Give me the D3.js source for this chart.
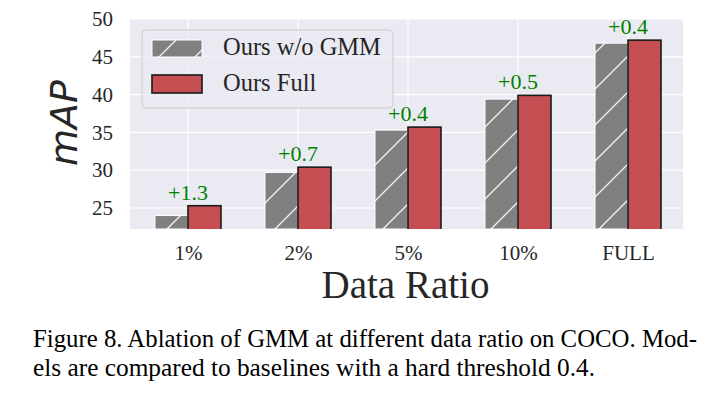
<!DOCTYPE html>
<html>
<head>
<meta charset="utf-8">
<script src="https://cdn.jsdelivr.net/npm/d3@7"></script>
<style>
body { margin: 0; background: #fff; }
svg text { font-family: "Liberation Serif", serif; }
</style>
</head>
<body>
<script>
// data
var categories = ["1%", "2%", "5%", "10%", "FULL"];
var woGMM = [24.0, 29.7, 35.3, 39.4, 46.8];
var full = [25.3, 30.4, 35.7, 39.9, 47.2];
var gains = ["+1.3", "+0.7", "+0.4", "+0.5", "+0.4"];
var yTicks = [25, 30, 35, 40, 45, 50];
var seriesNames = ["Ours w/o GMM", "Ours Full"];

var W = 721, H = 395;
var plot = {left: 130, right: 683, top: 19, bottom: 229};
var serif = "'Liberation Serif', serif";

var svg = d3.select("body").append("svg")
	.attr("width", W)
	.attr("height", H);

// hatch pattern for the gray bars
var defs = svg.append("defs");
var pat = defs.append("pattern")
	.attr("id", "hatch")
	.attr("patternUnits", "userSpaceOnUse")
	.attr("width", 36)
	.attr("height", 36);
pat.append("rect").attr("width", 36).attr("height", 36).attr("fill", "#808080");
pat.append("path")
	.attr("d", "M-9,9 L9,-9 M0,36 L36,0 M27,45 L45,27")
	.attr("stroke", "#f4f4f4")
	.attr("stroke-width", 1.3);

var x = d3.scaleLinear()
	.domain([-0.527, 4.5])
	.range([plot.left, plot.right]);

var y = d3.scaleLinear()
	.domain([22.22, 50])
	.range([plot.bottom, plot.top]);

var barW = 0.3;

// background
svg.append("rect")
	.attr("x", plot.left)
	.attr("y", plot.top)
	.attr("width", plot.right - plot.left)
	.attr("height", plot.bottom - plot.top)
	.attr("fill", "#eaeaf2");

// grid
svg.append("g").selectAll("line")
	.data(yTicks)
	.enter().append("line")
	.attr("x1", plot.left).attr("x2", plot.right)
	.attr("y1", d => y(d)).attr("y2", d => y(d))
	.attr("stroke", "#fff").attr("stroke-width", 1.2);

svg.append("g").selectAll("line")
	.data(categories)
	.enter().append("line")
	.attr("x1", (d, i) => x(i)).attr("x2", (d, i) => x(i))
	.attr("y1", plot.top).attr("y2", plot.bottom)
	.attr("stroke", "#fff").attr("stroke-width", 1.2);

// bars
svg.append("g").selectAll("rect")
	.data(woGMM)
	.enter().append("rect")
	.attr("x", (d, i) => x(i - barW))
	.attr("y", d => y(d))
	.attr("width", x(barW) - x(0))
	.attr("height", d => plot.bottom - y(d))
	.attr("fill", "url(#hatch)")
	.attr("stroke", "#fff")
	.attr("stroke-width", 1);

svg.append("g").selectAll("rect")
	.data(full)
	.enter().append("rect")
	.attr("x", (d, i) => x(i))
	.attr("y", d => y(d))
	.attr("width", x(barW) - x(0))
	.attr("height", d => plot.bottom - y(d) + 1)
	.attr("fill", "#c44e52")
	.attr("stroke", "#1a1a1a")
	.attr("stroke-width", 1.6);

// re-clip bottom so bars end at plot edge
svg.append("rect")
	.attr("x", plot.left - 5)
	.attr("y", plot.bottom)
	.attr("width", plot.right - plot.left + 10)
	.attr("height", 6)
	.attr("fill", "#fff");

// gain labels
svg.append("g").selectAll("text")
	.data(gains)
	.enter().append("text")
	.attr("x", (d, i) => x(i))
	.attr("y", (d, i) => y(full[i]) - 6)
	.attr("text-anchor", "middle")
	.style("font-family", serif)
	.attr("font-size", 22)
	.attr("fill", "#008000")
	.text(d => d);

// axes
var yAxis = svg.append("g")
	.attr("transform", "translate(" + plot.left + ",0)")
	.call(d3.axisLeft(y).tickValues(yTicks).tickSize(0).tickPadding(17));
var xAxis = svg.append("g")
	.attr("transform", "translate(0," + plot.bottom + ")")
	.call(d3.axisBottom(x).tickValues(d3.range(categories.length))
		.tickFormat(i => categories[i]).tickSize(0).tickPadding(16));
[yAxis, xAxis].forEach(function(a) {
	a.select(".domain").remove();
	a.selectAll("text")
		.style("font-family", serif)
		.attr("font-size", 21)
		.attr("fill", "#262626");
});

// axis titles
svg.append("text")
	.attr("transform", "translate(77,123) rotate(-90)")
	.attr("text-anchor", "middle")
	.style("font-family", "'DejaVu Sans', sans-serif")
	.style("font-style", "italic")
	.attr("font-size", 38)
	.attr("fill", "#262626")
	.text("mAP");

svg.append("text")
	.attr("x", (plot.left + plot.right) / 2 - 1)
	.attr("y", 298)
	.attr("text-anchor", "middle")
	.style("font-family", serif)
	.attr("font-size", 39)
	.attr("fill", "#262626")
	.text("Data Ratio");

// legend
var lg = svg.append("g");
lg.append("rect")
	.attr("x", 142).attr("y", 30)
	.attr("width", 251).attr("height", 78)
	.attr("rx", 4)
	.attr("fill", "#eaeaf2")
	.attr("fill-opacity", 0.8)
	.attr("stroke", "#cccccc");
lg.append("rect")
	.attr("x", 152).attr("y", 40).attr("width", 50).attr("height", 17)
	.attr("fill", "url(#hatch)").attr("stroke", "#fff");
lg.append("rect")
	.attr("x", 152).attr("y", 75).attr("width", 50).attr("height", 18)
	.attr("fill", "#c44e52").attr("stroke", "#1a1a1a").attr("stroke-width", 1.6);
lg.selectAll("text.lab")
	.data(seriesNames)
	.enter().append("text")
	.attr("class", "lab")
	.attr("x", 223)
	.attr("y", (d, i) => 55 + i * 36)
	.style("font-family", serif)
	.attr("font-size", 24.5)
	.attr("fill", "#262626")
	.text(d => d);

// caption (the printed font is a bit condensed)
var caption = ["Figure 8. Ablation of GMM at different data ratio on COCO. Mod-",
	"els are compared to baselines with a hard threshold 0.4."];
var capLen = [664, 562];
var squeeze = 0.9;
svg.selectAll("text.cap")
	.data(caption)
	.enter().append("text")
	.attr("class", "cap")
	.attr("transform", (d, i) => "translate(33," + (347 + i * 29) + ") scale(" + squeeze + ",1)")
	.style("font-family", serif)
	.attr("font-size", 25)
	.attr("fill", "#000")
	.attr("textLength", (d, i) => capLen[i] / squeeze)
	.attr("lengthAdjust", "spacingAndGlyphs")
	.text(d => d);
</script>
</body>
</html>
